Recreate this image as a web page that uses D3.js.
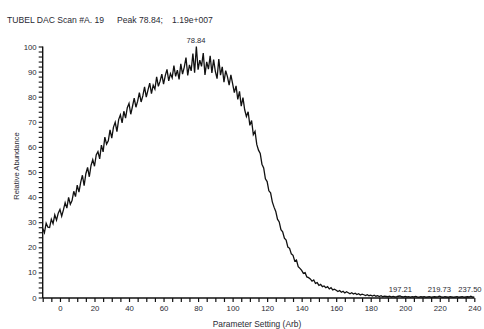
<!DOCTYPE html>
<html>
<head>
<meta charset="utf-8">
<script src="https://cdn.jsdelivr.net/npm/d3@7"></script>
<style>
  html, body { margin: 0; padding: 0; background: #fff; }
  svg { display: block; }
  text { font-family: "Liberation Sans", Arial, sans-serif; }
</style>
</head>
<body>
<svg id="chart" width="484" height="329"></svg>
<script>
// ---- data ----
const titleParts = ["TUBEL DAC Scan #A. 19", "Peak 78.84;", "1.19e+007"];
const xStart = -10;      // first parameter setting
const xStep = 1;         // spacing of samples
const abundance = [
  27.5,25.8,29.6,28.0,27.9,31.2,29.4,32.9,30.8,33.6,
  35.1,32.4,34.9,37.8,35.6,39.9,37.1,38.6,42.3,40.2,
  44.8,42.0,45.9,48.7,44.6,49.3,51.8,48.1,52.6,54.9,
  52.3,56.8,58.1,55.2,60.7,58.0,63.9,61.1,62.4,66.8,
  63.5,67.9,69.8,66.1,70.9,72.8,69.6,74.2,71.5,75.6,
  77.3,73.0,76.1,79.4,75.8,78.2,81.6,77.9,80.3,83.9,
  79.8,82.7,85.4,81.2,84.6,83.0,87.9,84.1,86.2,89.0,
  85.0,88.4,90.9,86.3,89.2,87.5,92.4,88.1,90.6,86.9,
  93.1,89.0,91.8,95.6,88.5,92.7,90.3,97.2,89.6,100.0,
  90.8,94.6,92.1,97.4,88.7,93.9,91.0,96.3,89.5,94.8,
  90.1,87.2,95.0,88.6,91.9,85.8,90.4,88.0,84.6,88.7,
  85.2,81.6,84.3,78.9,82.1,76.2,79.6,74.8,72.1,74.0,
  68.6,70.5,64.9,66.2,61.0,58.7,57.4,53.1,51.6,47.3,
  46.2,42.5,41.7,38.1,36.0,34.3,31.2,30.1,27.0,26.2,
  23.6,22.9,20.1,19.6,17.4,16.8,14.5,14.9,12.3,11.6,
  10.8,9.6,9.9,8.2,7.9,7.4,6.5,7.0,5.6,5.9,
  4.8,5.2,4.3,4.6,3.9,4.3,3.4,3.9,3.0,3.3,
  2.9,2.4,2.8,2.1,2.5,1.8,2.3,1.9,1.5,1.9,
  1.4,1.7,1.2,1.5,1.0,1.3,1.1,0.8,1.1,0.7,
  0.9,0.6,0.9,0.5,0.7,0.4,0.7,0.3,0.5,0.4,
  0.3,0.5,0.2,0.4,0.2,0.3,0.5,0.6,0.3,0.2,
  0.4,0.2,0.3,0.1,0.3,0.2,0.4,0.2,0.1,0.3,
  0.2,0.3,0.1,0.2,0.3,0.1,0.2,0.3,0.2,0.3,
  0.5,0.2,0.1,0.3,0.2,0.1,0.3,0.2,0.1,0.2,
  0.3,0.1,0.2,0.3,0.1,0.2,0.3,0.2,0.5,0.2,0.1
];
const peakX = [78.84, 197.21, 219.73, 237.50];
const peakVal = [100, 0.6, 0.5, 0.5];
const peakLabels = ["78.84", "197.21", "219.73", "237.50"];
const xMajorTicks = [0, 20, 40, 60, 80, 100, 120, 140, 160, 180, 200, 220, 240];
const yMajorTicks = [0, 10, 20, 30, 40, 50, 60, 70, 80, 90, 100];
const xTitle = "Parameter Setting (Arb)";
const yTitle = "Relative Abundance";

// ---- layout ----
const svg = d3.select("#chart");
const x = d3.scaleLinear().domain([-10, 240]).range([42.7, 474.3]);
const y = d3.scaleLinear().domain([0, 100]).range([297.5, 46.5]);
const ink = "#111";
const txt = "#2a2a33";

// title
const titleX = [7, 117, 172];
svg.selectAll("text.title").data(titleParts).enter().append("text")
  .attr("class", "title")
  .attr("x", (d, i) => titleX[i]).attr("y", 23)
  .attr("font-size", 8.6).attr("fill", txt)
  .text(d => d);

// x axis
const xMinor = d3.range(-10, 241, 5);
const xAxis = d3.axisBottom(x)
  .tickValues(xMinor)
  .tickSize(4)
  .tickFormat(d => xMajorTicks.includes(d) ? d : "")
  .tickPadding(3);
const gx = svg.append("g").attr("transform", `translate(0,${y(0) + 0.5})`).call(xAxis);
gx.select(".domain").attr("stroke", ink).attr("stroke-width", 1.4).attr("d", `M${x(-10)},0H${x(240)}`);
gx.selectAll(".tick line").attr("stroke", ink).attr("stroke-width", 1.2);
gx.selectAll(".tick text").attr("font-size", 7.8).attr("fill", txt)
  .attr("font-family", "Liberation Sans, Arial, sans-serif");

// y axis
const yMinor = d3.range(0, 101, 2);
const yAxis = d3.axisLeft(y)
  .tickValues(yMinor)
  .tickSize(4)
  .tickFormat(d => yMajorTicks.includes(d) ? d : "")
  .tickPadding(2);
const gy = svg.append("g").attr("transform", `translate(${x(-10)},0)`).call(yAxis);
gy.select(".domain").attr("stroke", ink).attr("stroke-width", 1.4).attr("d", `M0,${y(100)}V${y(0) + 0.5}`);
gy.selectAll(".tick line").attr("stroke", ink).attr("stroke-width", 1.1);
gy.selectAll(".tick text").attr("font-size", 7.8).attr("fill", txt)
  .attr("font-family", "Liberation Sans, Arial, sans-serif");

// axis titles
svg.append("text")
  .attr("x", 257).attr("y", 327)
  .attr("text-anchor", "middle").attr("font-size", 8.4).attr("fill", txt)
  .text(xTitle);
svg.append("text")
  .attr("transform", "translate(19,166) rotate(-90)")
  .attr("text-anchor", "middle").attr("font-size", 7.6).attr("fill", txt)
  .text(yTitle);

// data line
const pts = abundance.map((v, i) => [xStart + i * xStep, v]);
const line = d3.line().x(d => x(d[0])).y(d => y(d[1]));
svg.append("path")
  .datum(pts)
  .attr("fill", "none")
  .attr("stroke", ink)
  .attr("stroke-width", 1.3)
  .attr("stroke-linejoin", "miter")
  .attr("d", line);

// peak labels
svg.selectAll("text.peak").data(peakLabels).enter().append("text")
  .attr("class", "peak")
  .attr("x", (d, i) => x(peakX[i]))
  .attr("y", (d, i) => y(peakVal[i]) - 4)
  .attr("text-anchor", "middle").attr("font-size", 7.6).attr("fill", txt)
  .text(d => d);
</script>
</body>
</html>
